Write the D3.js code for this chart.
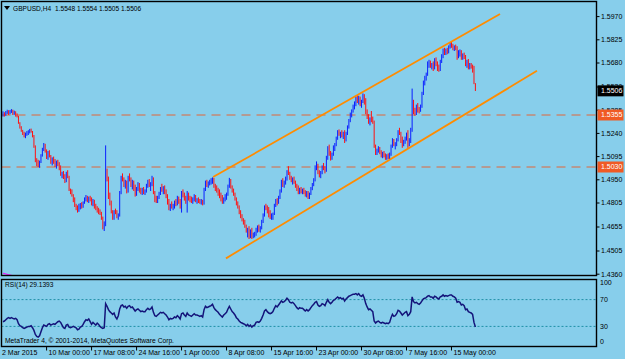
<!DOCTYPE html>
<html><head><meta charset="utf-8">
<script src="https://cdn.jsdelivr.net/npm/d3@7"></script>
<style>
html,body{margin:0;padding:0;background:#87ceeb;}
svg{display:block;font-family:"Liberation Sans",Arial,sans-serif;}
</style></head><body>
<svg id="c" width="625" height="359"></svg>
<script>
const symbolName = "GBPUSD,H4";
const lastOHLC = [1.5548, 1.5554, 1.5505, 1.5506];
const firstOpen = 1.5355;
const highs = [1.5378,1.5372,1.5380,1.5388,1.5385,1.5386,1.5392,1.5388,1.5382,1.5378,1.5365,1.5350,1.5310,1.5285,1.5262,1.5250,1.5245,1.5255,1.5260,1.5268,1.5270,1.5255,1.5230,1.5165,1.5085,1.5075,1.5070,1.5110,1.5150,1.5180,1.5175,1.5140,1.5130,1.5135,1.5105,1.5090,1.5095,1.5080,1.5070,1.5075,1.5060,1.5040,1.5000,1.5005,1.4985,1.5000,1.5010,1.4975,1.4895,1.4890,1.4860,1.4840,1.4800,1.4790,1.4800,1.4805,1.4810,1.4815,1.4840,1.4855,1.4850,1.4845,1.4850,1.4840,1.4830,1.4825,1.4800,1.4785,1.4775,1.4765,1.4750,1.4720,1.4690,1.5165,1.5020,1.4970,1.4870,1.4820,1.4760,1.4760,1.4770,1.4760,1.4740,1.4880,1.4975,1.4990,1.4965,1.4950,1.4945,1.4975,1.4990,1.4965,1.4950,1.4945,1.4920,1.4905,1.4935,1.4930,1.4900,1.4900,1.4905,1.4890,1.4925,1.4950,1.4955,1.4935,1.4975,1.4965,1.4880,1.4850,1.4850,1.4875,1.4905,1.4925,1.4910,1.4915,1.4890,1.4860,1.4830,1.4800,1.4815,1.4800,1.4820,1.4830,1.4850,1.4845,1.4830,1.4880,1.4890,1.4870,1.4850,1.4880,1.4870,1.4850,1.4845,1.4840,1.4860,1.4855,1.4835,1.4840,1.4830,1.4830,1.4825,1.4900,1.4945,1.4950,1.4940,1.4950,1.4960,1.4965,1.4962,1.4925,1.4915,1.4900,1.4890,1.4870,1.4855,1.4840,1.4860,1.4870,1.4920,1.4962,1.4955,1.4915,1.4895,1.4870,1.4840,1.4815,1.4790,1.4760,1.4735,1.4710,1.4700,1.4670,1.4650,1.4660,1.4640,1.4650,1.4620,1.4625,1.4650,1.4665,1.4670,1.4660,1.4700,1.4740,1.4790,1.4800,1.4790,1.4780,1.4760,1.4740,1.4745,1.4800,1.4830,1.4835,1.4850,1.4890,1.4950,1.4960,1.4945,1.4970,1.5010,1.5035,1.5000,1.4975,1.4965,1.4970,1.4945,1.4925,1.4915,1.4900,1.4905,1.4895,1.4900,1.4885,1.4880,1.4880,1.4870,1.4905,1.4930,1.4960,1.5040,1.5065,1.5050,1.5010,1.5005,1.5040,1.5055,1.5035,1.5100,1.5160,1.5170,1.5130,1.5120,1.5165,1.5180,1.5220,1.5260,1.5265,1.5250,1.5260,1.5250,1.5260,1.5250,1.5290,1.5330,1.5370,1.5390,1.5420,1.5440,1.5470,1.5480,1.5475,1.5470,1.5450,1.5490,1.5485,1.5460,1.5390,1.5360,1.5340,1.5380,1.5345,1.5320,1.5170,1.5145,1.5160,1.5155,1.5135,1.5125,1.5130,1.5115,1.5110,1.5115,1.5120,1.5170,1.5210,1.5205,1.5185,1.5210,1.5260,1.5275,1.5250,1.5220,1.5200,1.5220,1.5245,1.5260,1.5210,1.5275,1.5520,1.5450,1.5400,1.5420,1.5430,1.5405,1.5420,1.5500,1.5570,1.5600,1.5620,1.5690,1.5700,1.5695,1.5680,1.5690,1.5710,1.5715,1.5690,1.5670,1.5700,1.5735,1.5770,1.5775,1.5770,1.5775,1.5790,1.5810,1.5815,1.5800,1.5790,1.5795,1.5785,1.5760,1.5765,1.5760,1.5740,1.5745,1.5730,1.5700,1.5705,1.5680,1.5680,1.5670,1.5662,1.5554];
const lows = [1.5345,1.5345,1.5350,1.5362,1.5355,1.5360,1.5368,1.5355,1.5356,1.5345,1.5340,1.5300,1.5270,1.5250,1.5230,1.5215,1.5210,1.5225,1.5230,1.5240,1.5245,1.5215,1.5150,1.5060,1.5035,1.5030,1.5025,1.5055,1.5095,1.5130,1.5120,1.5080,1.5075,1.5090,1.5050,1.5040,1.5050,1.5030,1.5020,1.5035,1.5010,1.4975,1.4960,1.4955,1.4930,1.4935,1.4960,1.4880,1.4860,1.4845,1.4810,1.4780,1.4760,1.4745,1.4750,1.4765,1.4770,1.4775,1.4800,1.4815,1.4810,1.4805,1.4815,1.4790,1.4785,1.4770,1.4760,1.4745,1.4735,1.4730,1.4700,1.4640,1.4630,1.4660,1.4940,1.4830,1.4790,1.4740,1.4700,1.4700,1.4735,1.4710,1.4700,1.4720,1.4860,1.4940,1.4905,1.4895,1.4865,1.4870,1.4940,1.4905,1.4890,1.4880,1.4845,1.4850,1.4880,1.4870,1.4860,1.4855,1.4860,1.4855,1.4870,1.4900,1.4905,1.4880,1.4910,1.4860,1.4810,1.4805,1.4805,1.4830,1.4855,1.4875,1.4860,1.4860,1.4835,1.4795,1.4760,1.4755,1.4770,1.4760,1.4770,1.4785,1.4790,1.4800,1.4770,1.4745,1.4840,1.4820,1.4800,1.4745,1.4820,1.4810,1.4805,1.4800,1.4815,1.4810,1.4800,1.4805,1.4800,1.4795,1.4790,1.4795,1.4880,1.4905,1.4900,1.4915,1.4920,1.4925,1.4900,1.4880,1.4870,1.4850,1.4835,1.4815,1.4800,1.4800,1.4815,1.4825,1.4850,1.4900,1.4895,1.4870,1.4850,1.4820,1.4790,1.4770,1.4735,1.4710,1.4690,1.4670,1.4650,1.4620,1.4590,1.4580,1.4585,1.4580,1.4585,1.4590,1.4600,1.4620,1.4625,1.4620,1.4640,1.4680,1.4720,1.4760,1.4740,1.4715,1.4705,1.4700,1.4700,1.4730,1.4780,1.4790,1.4800,1.4830,1.4870,1.4905,1.4900,1.4920,1.4945,1.4980,1.4950,1.4935,1.4920,1.4925,1.4900,1.4880,1.4860,1.4860,1.4865,1.4860,1.4860,1.4845,1.4840,1.4830,1.4830,1.4855,1.4885,1.4910,1.4940,1.5010,1.4985,1.4965,1.4960,1.4985,1.5010,1.4990,1.5000,1.5075,1.5100,1.5070,1.5075,1.5100,1.5130,1.5160,1.5200,1.5225,1.5210,1.5215,1.5205,1.5180,1.5190,1.5230,1.5270,1.5310,1.5340,1.5370,1.5390,1.5410,1.5430,1.5420,1.5410,1.5400,1.5430,1.5420,1.5360,1.5330,1.5300,1.5290,1.5310,1.5300,1.5150,1.5105,1.5105,1.5120,1.5110,1.5090,1.5085,1.5090,1.5075,1.5075,1.5080,1.5080,1.5100,1.5150,1.5160,1.5140,1.5160,1.5190,1.5230,1.5180,1.5150,1.5160,1.5175,1.5195,1.5150,1.5160,1.5180,1.5250,1.5360,1.5350,1.5355,1.5370,1.5365,1.5375,1.5400,1.5480,1.5540,1.5570,1.5600,1.5650,1.5650,1.5640,1.5630,1.5640,1.5660,1.5630,1.5625,1.5630,1.5680,1.5710,1.5730,1.5730,1.5735,1.5740,1.5770,1.5775,1.5760,1.5755,1.5760,1.5700,1.5710,1.5720,1.5700,1.5700,1.5705,1.5660,1.5650,1.5640,1.5640,1.5645,1.5620,1.5548,1.5505];
const closes = [1.5365,1.5358,1.5372,1.5380,1.5370,1.5378,1.5385,1.5368,1.5375,1.5360,1.5345,1.5305,1.5280,1.5260,1.5240,1.5225,1.5235,1.5245,1.5255,1.5262,1.5250,1.5225,1.5160,1.5075,1.5050,1.5040,1.5060,1.5100,1.5140,1.5165,1.5130,1.5095,1.5115,1.5100,1.5060,1.5080,1.5060,1.5045,1.5050,1.5040,1.5020,1.4985,1.4990,1.4965,1.4945,1.4990,1.4970,1.4890,1.4870,1.4855,1.4820,1.4790,1.4770,1.4760,1.4790,1.4795,1.4780,1.4805,1.4830,1.4845,1.4820,1.4835,1.4825,1.4800,1.4820,1.4780,1.4770,1.4760,1.4750,1.4740,1.4710,1.4650,1.4680,1.5010,1.4960,1.4850,1.4810,1.4750,1.4720,1.4750,1.4745,1.4725,1.4730,1.4870,1.4960,1.4950,1.4915,1.4940,1.4880,1.4960,1.4955,1.4920,1.4930,1.4895,1.4860,1.4895,1.4925,1.4880,1.4870,1.4890,1.4875,1.4880,1.4915,1.4945,1.4915,1.4925,1.4960,1.4870,1.4825,1.4815,1.4840,1.4865,1.4895,1.4885,1.4900,1.4870,1.4845,1.4805,1.4775,1.4790,1.4780,1.4790,1.4810,1.4800,1.4840,1.4815,1.4780,1.4870,1.4855,1.4830,1.4810,1.4865,1.4830,1.4825,1.4815,1.4830,1.4850,1.4820,1.4825,1.4815,1.4810,1.4820,1.4800,1.4890,1.4935,1.4920,1.4930,1.4940,1.4950,1.4960,1.4910,1.4895,1.4880,1.4865,1.4845,1.4825,1.4810,1.4830,1.4840,1.4860,1.4910,1.4950,1.4905,1.4880,1.4860,1.4830,1.4800,1.4780,1.4745,1.4720,1.4700,1.4690,1.4660,1.4630,1.4640,1.4600,1.4625,1.4595,1.4600,1.4610,1.4640,1.4650,1.4640,1.4650,1.4690,1.4730,1.4780,1.4770,1.4750,1.4725,1.4715,1.4720,1.4735,1.4790,1.4820,1.4805,1.4840,1.4880,1.4940,1.4920,1.4935,1.4960,1.5000,1.4990,1.4960,1.4945,1.4955,1.4935,1.4910,1.4890,1.4870,1.4890,1.4880,1.4885,1.4870,1.4855,1.4870,1.4840,1.4860,1.4895,1.4920,1.4950,1.5030,1.5040,1.4995,1.4980,1.4995,1.5030,1.5020,1.5010,1.5090,1.5150,1.5110,1.5090,1.5110,1.5155,1.5170,1.5210,1.5250,1.5235,1.5240,1.5225,1.5240,1.5200,1.5240,1.5280,1.5320,1.5360,1.5380,1.5410,1.5430,1.5460,1.5440,1.5465,1.5420,1.5440,1.5480,1.5430,1.5370,1.5340,1.5320,1.5330,1.5325,1.5315,1.5160,1.5120,1.5135,1.5150,1.5120,1.5100,1.5110,1.5100,1.5090,1.5100,1.5090,1.5110,1.5160,1.5200,1.5170,1.5175,1.5200,1.5250,1.5240,1.5200,1.5170,1.5190,1.5210,1.5230,1.5170,1.5190,1.5260,1.5440,1.5380,1.5370,1.5400,1.5385,1.5380,1.5410,1.5490,1.5560,1.5590,1.5610,1.5680,1.5690,1.5665,1.5670,1.5645,1.5700,1.5680,1.5650,1.5640,1.5690,1.5725,1.5760,1.5745,1.5760,1.5745,1.5780,1.5800,1.5790,1.5770,1.5780,1.5770,1.5715,1.5740,1.5750,1.5710,1.5730,1.5715,1.5680,1.5690,1.5655,1.5665,1.5655,1.5640,1.5548,1.5506];
const rsiValues = [37,38,40,42,43,42,43,42,41,42,40,34,31,30,28,27,28,29,30,30,31,28,24,18,15,14,16,22,28,32,31,30,33,34,32,33,34,33,35,37,38,36,32,28,27,32,33,29,28,29,30,29,28,25,26,29,30,33,37,40,39,41,37,33,36,34,32,35,33,30,28,27,28,64,60,55,52,50,48,50,44,41,46,56,61,62,59,60,57,60,61,58,59,56,53,55,56,54,52,53,52,52,55,57,55,56,59,51,46,45,47,49,51,50,51,49,47,44,40,42,41,42,44,43,46,44,41,49,50,47,45,50,47,46,45,47,49,47,47,46,45,46,44,55,60,58,59,60,61,63,58,55,53,51,48,46,44,47,49,51,56,60,56,52,50,47,43,41,38,36,35,34,33,31,33,30,32,29,31,32,36,37,36,38,42,47,53,55,52,50,49,50,52,57,61,59,62,65,68,66,67,69,72,70,66,65,66,64,61,58,56,58,57,57,55,53,55,53,55,58,61,63,66,67,62,60,61,64,63,61,66,70,66,64,66,69,70,72,74,72,73,71,72,68,71,73,75,76,77,78,78,79,77,79,76,75,77,72,64,59,55,56,54,52,38,35,37,38,36,35,36,35,34,35,34,36,43,48,45,46,49,54,53,50,47,49,51,52,46,48,52,74,67,65,66,64,63,65,68,71,72,73,75,76,74,74,72,75,74,72,71,74,75,77,75,76,75,76,77,77,75,74,72,66,67,66,62,63,61,55,56,52,51,50,48,36,29.1393];
const priceTicks = [1.5970,1.5825,1.5680,1.5530,1.5385,1.5240,1.5095,1.4950,1.4805,1.4655,1.4505,1.4360];
const hLines = [1.5355, 1.5030];
const rsiTicks = [100, 70, 30, 0];
const rsiLevels = [70, 30];
const channelUpper = [[149.4, 1.4967], [353.5, 1.5986]];
const channelLower = [[158.6, 1.4459], [379.8, 1.5631]];
const otherIndicator = [[0, 1.4366], [4, 1.4357], [9, 1.4347]];
const dateLabels = ["2 Mar 2015","10 Mar 00:00","17 Mar 08:00","24 Mar 16:00","1 Apr 00:00","8 Apr 08:00","15 Apr 16:00","23 Apr 00:00","30 Apr 08:00","7 May 16:00","15 May 00:00"];
const dateBars = [0,31,63,95,127,159,191,223,255,287,319];

const svg = d3.select("#c");
const W = 625, H = 359;
const plotL = 1.5, plotR = 596.5, mainT = 1.5, mainB = 275.5, rsiT = 279.5, rsiB = 346.5;
const bg = "#87ceeb", frame = "#000000";

const x = d3.scaleLinear().domain([0, closes.length - 1]).range([3, 475.4]);
const y = d3.scaleLinear().domain([1.4360, 1.5970]).range([274.2, 16.6]);
const yr = d3.scaleLinear().domain([0, 100]).range([rsiB, rsiT]);

svg.append("rect").attr("width", W).attr("height", H).attr("fill", bg);

const defs = svg.append("defs");
defs.append("clipPath").attr("id", "mainClip").append("rect")
  .attr("x", plotL).attr("y", mainT).attr("width", plotR - plotL).attr("height", mainB - mainT);
defs.append("clipPath").attr("id", "rsiClip").append("rect")
  .attr("x", plotL).attr("y", rsiT).attr("width", plotR - plotL).attr("height", rsiB - rsiT);

const main = svg.append("g").attr("clip-path", "url(#mainClip)");

// horizontal dashed lines
main.selectAll("line.h").data(hLines).join("line")
  .attr("x1", plotL).attr("x2", plotR)
  .attr("y1", d => y(d)).attr("y2", d => y(d))
  .attr("stroke", "#e0663a").attr("stroke-width", 1).attr("stroke-dasharray", "9,6");

// bars
const opens = closes.map((c, i) => i === 0 ? firstOpen : closes[i - 1]);
const bars = closes.map((c, i) => ({i, o: opens[i], h: highs[i], l: lows[i], c}));
main.selectAll("line.bar").data(bars).join("line")
  .attr("x1", d => x(d.i)).attr("x2", d => x(d.i))
  .attr("y1", d => y(d.h)).attr("y2", d => y(d.l))
  .attr("stroke", d => d.c >= d.o ? "#0a1eff" : "#ff1010")
  .attr("stroke-width", 1);

// channel lines
const lineGen = d3.line().x(d => x(d[0])).y(d => y(d[1]));
[channelUpper, channelLower].forEach(c => {
  main.append("path").attr("d", lineGen(c)).attr("fill", "none")
    .attr("stroke", "#ff8c00").attr("stroke-width", 1.8);
});
main.append("path").attr("d", lineGen(otherIndicator)).attr("fill", "none")
  .attr("stroke", "#ff00ff").attr("stroke-width", 1);

// RSI panel
const rsiG = svg.append("g").attr("clip-path", "url(#rsiClip)");
rsiG.selectAll("line.lvl").data(rsiLevels).join("line")
  .attr("x1", plotL).attr("x2", plotR)
  .attr("y1", d => yr(d)).attr("y2", d => yr(d))
  .attr("stroke", "#1f8fa6").attr("stroke-width", 1).attr("stroke-dasharray", "2,2");
rsiG.append("path")
  .attr("d", d3.line().x((d, i) => x(i)).y(d => yr(d))(rsiValues))
  .attr("fill", "none").attr("stroke", "#14147a").attr("stroke-width", 1.5);

// frames
const fr = svg.append("g").attr("stroke", frame).attr("stroke-width", 1.4).attr("fill", "none");
fr.append("rect").attr("x", plotL).attr("y", mainT).attr("width", plotR - plotL).attr("height", mainB - mainT);
fr.append("rect").attr("x", plotL).attr("y", rsiT).attr("width", plotR - plotL).attr("height", rsiB - rsiT);

const fs = 7;
// price axis
const pa = svg.append("g");
priceTicks.forEach(p => {
  pa.append("line").attr("x1", plotR).attr("x2", plotR + 3).attr("y1", y(p)).attr("y2", y(p))
    .attr("stroke", "#000").attr("stroke-width", 1);
  pa.append("text").attr("x", 601).attr("y", y(p)).attr("dy", "0.35em")
    .attr("font-size", fs).attr("fill", "#000").text(p.toFixed(4));
});
// highlighted labels
function tag(p, fill) {
  pa.append("rect").attr("x", 597.5).attr("y", y(p) - 5.5).attr("width", 26).attr("height", 11).attr("fill", fill);
  pa.append("text").attr("x", 601).attr("y", y(p)).attr("dy", "0.35em")
    .attr("font-size", fs).attr("fill", "#fff").text(p.toFixed(4));
}
hLines.forEach(p => tag(p, "#f05a24"));
tag(lastOHLC[3], "#000");

// rsi axis
rsiTicks.forEach(v => {
  const yy = Math.min(Math.max(yr(v), rsiT + 3), rsiB - 5);
  pa.append("text").attr("x", 600).attr("y", yy).attr("dy", "0.35em")
    .attr("font-size", fs).attr("fill", "#000").text(v);
});

// date axis
const da = svg.append("g");
dateLabels.forEach((t, k) => {
  const xx = x(dateBars[k]);
  if (k > 0) {
    da.append("line").attr("x1", xx).attr("x2", xx).attr("y1", rsiB).attr("y2", rsiB + 4)
      .attr("stroke", "#000").attr("stroke-width", 1);
  }
  da.append("text").attr("x", k === 0 ? xx - 1 : xx + 2).attr("y", 355)
    .attr("font-size", fs).attr("fill", "#000").text(t);
});

// title
svg.append("path").attr("d", "M4,6 L10,6 L7,10 Z").attr("fill", "#000");
const titleParts = [symbolName].concat(lastOHLC.map(v => v.toFixed(4)));
const titleX = [13, 55, 77, 99, 121];
titleParts.forEach((t, k) => {
  svg.append("text").attr("x", titleX[k]).attr("y", 10.5).attr("font-size", 6.6).attr("fill", "#000").text(t);
});

svg.append("text").attr("x", 5).attr("y", 287).attr("font-size", 6.6).attr("fill", "#000")
  .text("RSI(14) " + rsiValues[rsiValues.length - 1].toFixed(4));
svg.append("text").attr("x", 5).attr("y", 343).attr("font-size", 6.7).attr("fill", "#000")
  .text("MetaTrader 4, \u00a9 2001-2014, MetaQuotes Software Corp.");
</script>
</body></html>
